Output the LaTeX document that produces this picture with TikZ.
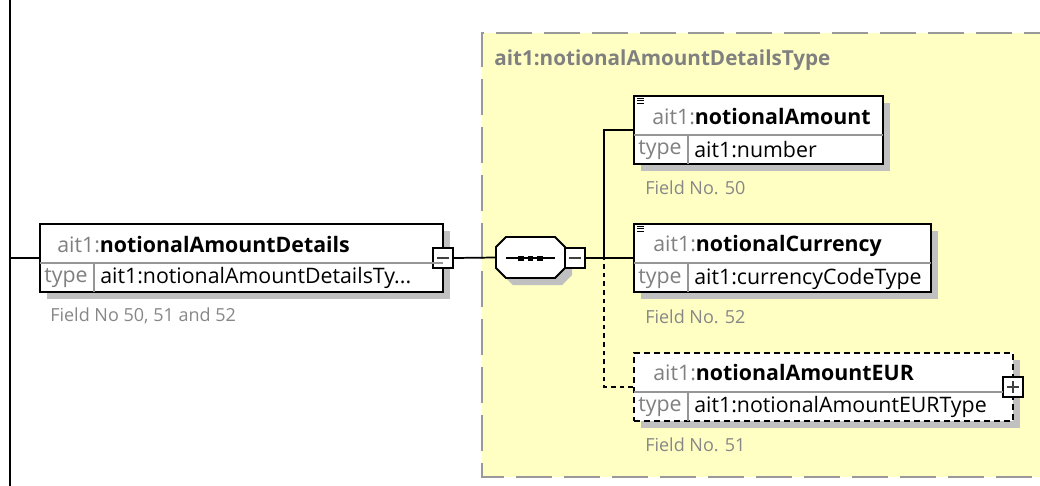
\documentclass[tikz,border=0pt]{standalone}
\usepackage{fontspec}
\setmainfont{Open Sans}
\usetikzlibrary{fit,shadows}
\definecolor{ylw}{RGB}{255,255,196}
\definecolor{ydash}{RGB}{153,153,153}
\definecolor{shd}{RGB}{192,192,192}
\definecolor{nsg}{RGB}{128,128,128}
\definecolor{divg}{RGB}{150,150,150}
\definecolor{noteg}{RGB}{135,135,135}
\begin{document}
\begin{tikzpicture}[x=0.75pt,y=-0.75pt,
  shadowed/.style={drop shadow={shadow xshift=5.25pt,shadow yshift=-5.25pt,fill=shd,opacity=1}},
  elbox/.style={draw=black,line width=1.4pt,fill=white,inner sep=0pt,shadowed},
  optbox/.style={elbox,dash pattern=on 4.5pt off 3pt},
  seqframe/.style={inner sep=0pt},
  seqline/.style={draw=black,line width=1.4pt,fill=white,line join=miter},
  btn/.style={draw=black,line width=1.2pt,fill=white,inner sep=0pt},
  btnmark/.style={line width=1.1pt,black!75},
  conn/.style={line width=1.3pt,black},
  optconn/.style={conn,dash pattern=on 3.5pt off 3pt},
  divline/.style={line width=0.8pt,divg},
  hdr/.style={anchor=west,inner sep=0pt,font=\fontsize{16pt}{19pt}\selectfont},
  typew/.style={anchor=west,inner sep=0pt,text=nsg,font=\fontsize{16pt}{19pt}\selectfont},
  typev/.style={anchor=west,inner sep=0pt,text=black,font=\fontsize{16pt}{19pt}\selectfont},
  note/.style={anchor=west,inner sep=0pt,text=noteg,font=\fontsize{13.5pt}{16pt}\selectfont},
  ttl/.style={anchor=west,inner sep=0pt,text=nsg,font=\bfseries\fontsize{15.5pt}{18pt}\selectfont},
  icon/.style={line width=0.6pt,black}
]
\clip (0,0) rectangle (1040,486);
% complex type area
\fill[ylw] (482,33) rectangle (1060,477);
\draw[ydash,line width=1.8pt,dash pattern=on 27pt off 9pt] (1060,33) -- (482,33) -- (482,477) -- (1060,477);
\node[ttl] (ttl) at (494,60) {ait1:notionalAmountDetailsType};

% left rail
\coordinate (railT) at (10,0);
\coordinate (railB) at (10,486);
\draw[conn] (railT) -- (railB);

% boxes
\node[elbox,fit={(40,224) (443,292)}] (main) {};
\node[seqframe,fit={(496,237) (565,278)}] (seq) {};
\fill[shd] (513,244) -- (562,244) -- (572,254) -- (572,275) -- (562,285) -- (513,285) -- (503,275) -- (503,254) -- cycle;
\draw[seqline] (506,237) -- (555,237) -- (565,247) -- (565,268) -- (555,278) -- (506,278) -- (496,268) -- (496,247) -- cycle;
\node[elbox,fit={(634,96) (883,164)}] (amt) {};
\node[elbox,fit={(634,224) (931,292)}] (cur) {};
\node[optbox,fit={(634,353) (1013,421)}] (eur) {};

% buttons
\node[btn,fit={(433,248) (453,268)}] (mainbtn) {};
\node[btn,fit={(565,248) (585,268)}] (seqbtn) {};
\node[btn,fit={(1003,377) (1023,397)}] (eurbtn) {};

% connectors
\coordinate (railJ) at (10,258);
\coordinate (fork) at (604,258);
\draw[conn] (railJ) -- (main.west);
\draw[conn] (mainbtn.east) -- (seq.west);
\draw[conn] (seqbtn.east) -- (cur.west);
\draw[conn] (amt.west) -| (fork);
\draw[optconn] (eur.west) -| (fork);

% button marks
\draw[btnmark] (437,258) -- (449,258);
\draw[btnmark] (569,258) -- (581,258);
\draw[btnmark] (1007,387) -- (1019,387);
\draw[btnmark] (1013,381) -- (1013,393);

% sequence glyph
\draw[line width=1.3pt] (506,258) -- (555,258);
\fill (518,255.5) rectangle (523.5,260.5);
\fill (527.5,255.5) rectangle (533,260.5);
\fill (537,255.5) rectangle (542.5,260.5);

% dividers
\draw[divline] (40,263) -- (443,263);
\draw[divline] (94,263) -- (94,292);
\draw[divline] (634,135) -- (883,135);
\draw[divline] (688,135) -- (688,164);
\draw[divline] (634,263) -- (931,263);
\draw[divline] (688,263) -- (688,292);
\draw[divline] (634,392) -- (1003,392);
\draw[divline] (688,392) -- (688,421);

% icons
\draw[icon] (637,98.5) -- (644,98.5);
\draw[icon] (637,100.8) -- (644,100.8);
\draw[icon] (637,103.1) -- (644,103.1);
\draw[icon] (637,226.5) -- (644,226.5);
\draw[icon] (637,228.8) -- (644,228.8);
\draw[icon] (637,231.1) -- (644,231.1);

% texts
\node[hdr] (mainH) at (57,245) {\textcolor{nsg}{ait1:}\textbf{notionalAmountDetails}};
\node[typew] (mainT) at (44,278) {type};
\node[typev] (mainV) at (100,278) {ait1:notionalAmountDetailsTy...};
\node[note] (mainN) at (50,316) {Field No 50, 51 and 52};

\node[hdr] (amtH) at (652,117) {\textcolor{nsg}{ait1:}\textbf{notionalAmount}};
\node[typew] (amtT) at (638,150) {type};
\node[typev] (amtV) at (694,150) {ait1:number};
\node[note] (amtN) at (645,188) {Field No. 50};

\node[hdr] (curH) at (653,246) {\textcolor{nsg}{ait1:}\textbf{notionalCurrency}};
\node[typew] (curT) at (638,279) {type};
\node[typev] (curV) at (694,279) {ait1:currencyCodeType};
\node[note] (curN) at (645,317) {Field No. 52};

\node[hdr] (eurH) at (653,373) {\textcolor{nsg}{ait1:}\textbf{notionalAmountEUR}};
\node[typew] (eurT) at (638,407) {type};
\node[typev] (eurV) at (694,407) {ait1:notionalAmountEURType};
\node[note] (eurN) at (645,445) {Field No. 51};
\end{tikzpicture}
\end{document}
